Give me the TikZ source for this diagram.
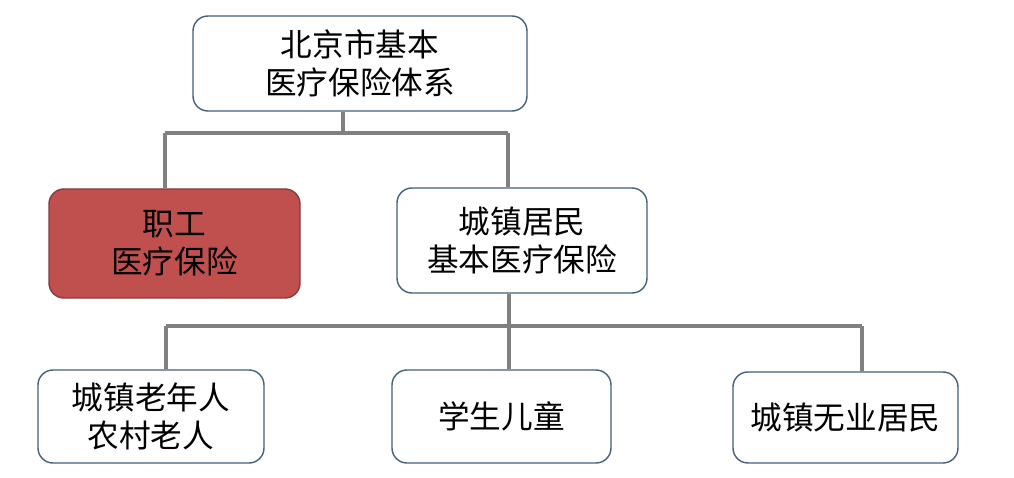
\documentclass[tikz,border=0pt]{standalone}
\usepackage{fontspec}
\setmainfont{Noto Sans CJK SC}
\usepackage{tikz}
\usetikzlibrary{positioning,calc}
\definecolor{boxline}{RGB}{70,95,125}
\definecolor{redfill}{RGB}{192,80,77}
\definecolor{redline}{RGB}{130,60,66}
\definecolor{connline}{RGB}{128,128,128}
\tikzset{
  box/.style={draw=boxline, line width=0.8pt, fill=white, rounded corners=0.3cm, align=center, text centered,
      font=\fontsize{18}{21.6}\selectfont, inner sep=0pt},
  redbox/.style={box, draw=redline, fill=redfill},
  conn/.style={draw=connline, line width=2pt}
}
\begin{document}
\begin{tikzpicture}
    \useasboundingbox (0,0) rectangle (20.28,-9.56);
    % boxes
    \node[box, minimum width=6.68cm, minimum height=1.9cm] (system) at (7.2,-1.27) {北京市基本\\医疗保险体系};
    \node[redbox, minimum width=5.02cm, minimum height=2.18cm] (staff) at (3.49,-4.87) {职工\\医疗保险};
    \node[box, minimum width=5.0cm, minimum height=2.1cm] (resident) at (10.44,-4.81) {城镇居民\\基本医疗保险};
    \node[box, minimum width=4.52cm, minimum height=1.86cm] (elder) at (3.02,-8.33) {城镇老年人\\农村老人};
    \node[box, minimum width=4.38cm, minimum height=1.86cm] (student) at (10.03,-8.33) {学生儿童};
    \node[box, minimum width=4.5cm, minimum height=1.82cm] (jobless) at (16.91,-8.35) {城镇无业居民};
    % junctions
    \coordinate (sysjoint) at (6.86,-2.66);
    \coordinate (resjoint) at (10.18,-6.52);
    % connectors
    \draw[conn] (sysjoint |- system.south) -- (sysjoint);
    \draw[conn] (3.30,-2.66) -- (10.16,-2.66);
    \draw[conn] (3.30,-2.66) -- (3.30,-2.66 |- staff.north);
    \draw[conn] (10.16,-2.66) -- (10.16,-2.66 |- resident.north);
    \draw[conn] (resjoint |- resident.south) -- (resjoint);
    \draw[conn] (3.32,-6.52) -- (17.24,-6.52);
    \draw[conn] (3.32,-6.52) -- (3.32,-6.52 |- elder.north);
    \draw[conn] (resjoint) -- (resjoint |- student.north);
    \draw[conn] (17.24,-6.52) -- (17.24,-6.52 |- jobless.north);
\end{tikzpicture}
\end{document}
